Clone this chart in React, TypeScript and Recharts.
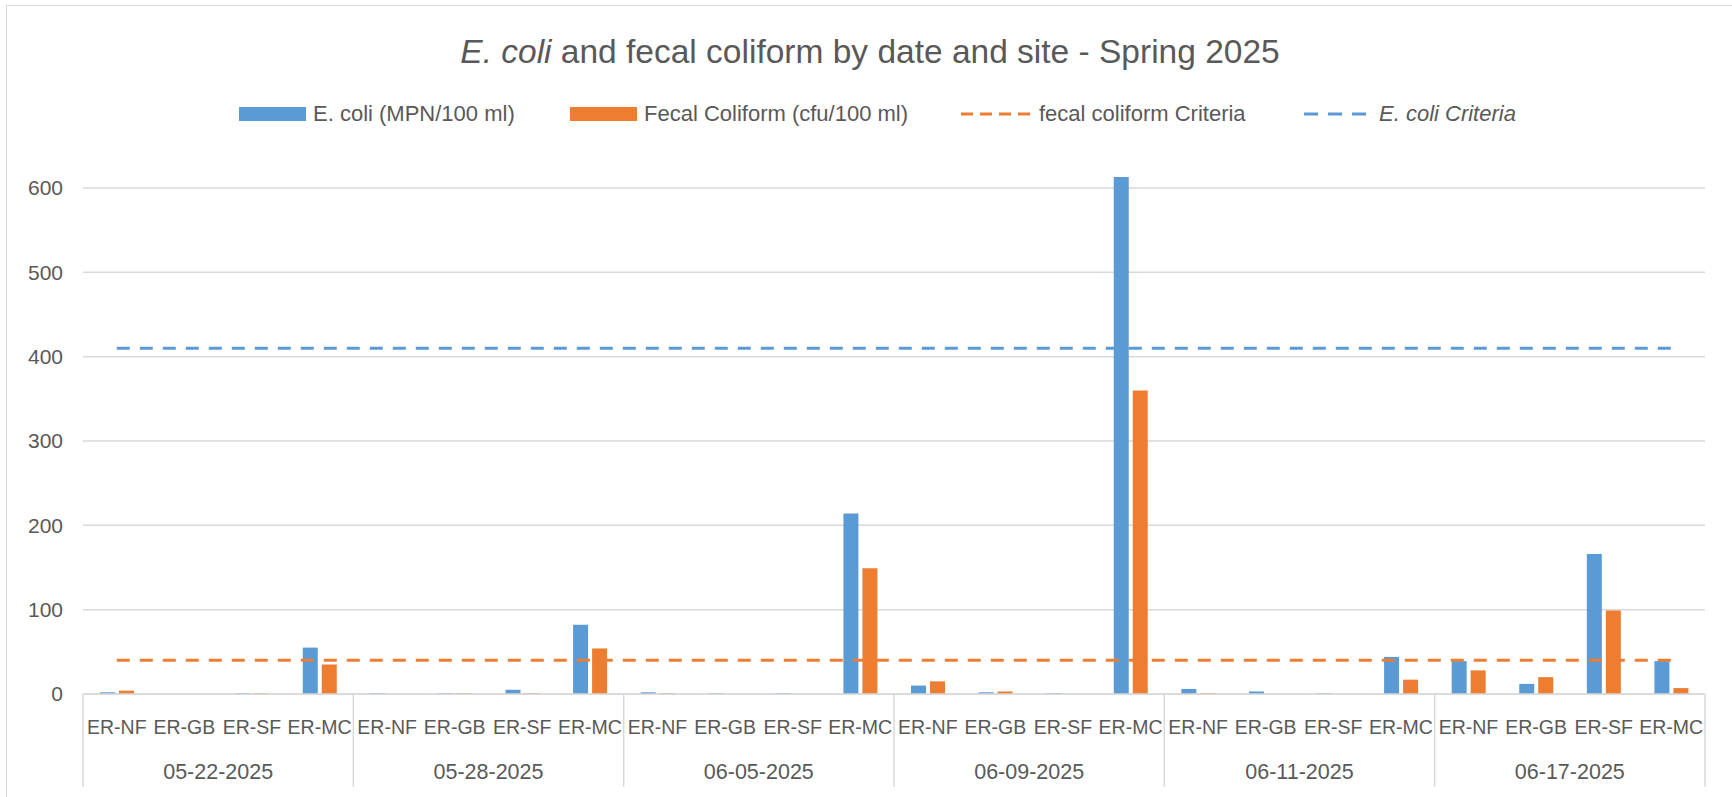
import React from 'react';
import { ComposedChart, Bar, Line, XAxis, YAxis, CartesianGrid, Legend } from 'recharts';

const sites = ['ER-NF', 'ER-GB', 'ER-SF', 'ER-MC'];
const dates = ['05-22-2025', '05-28-2025', '06-05-2025', '06-09-2025', '06-11-2025', '06-17-2025'];
// values per date, in site order
const ecoli = [2, 0, 1, 55, 1, 1, 5, 82, 2, 1, 1, 214, 10, 2, 1, 613, 6, 3, 1, 44, 39, 12, 166, 39];
const fecal = [4, 0, 1, 35, 0, 1, 1, 54, 1, 0, 0, 149, 15, 3, 0, 360, 1, 0, 0, 17, 28, 20, 99, 7];
const ecoliCriteria = 410;
const fecalCriteria = 40;
const yTicks = [0, 100, 200, 300, 400, 500, 600];

const rows = dates.flatMap((date, d) =>
  sites.map((site, s) => ({
    date,
    site,
    ecoli: ecoli[d * sites.length + s],
    fecal: fecal[d * sites.length + s],
    ecoliCrit: ecoliCriteria,
    fecalCrit: fecalCriteria,
  }))
);

const BLUE = '#5B9BD5';
const ORANGE = '#ED7D31';
const TEXT = '#595959';
const GRID = '#d9d9d9';
const FONT = "'Liberation Sans', Arial, sans-serif";

const W = 1732;
const H = 797;
const PLOT_LEFT = 83;
const PLOT_RIGHT = 1705;
const PLOT_TOP = 103.7;
const SITE_AXIS_H = 56;
const DATE_AXIS_H = 47;
const GROUP_W = (PLOT_RIGHT - PLOT_LEFT) / dates.length;

const SiteTick = (props: any) => {
  const { x, y, payload } = props;
  return (
    <text x={x} y={y + 32.5} textAnchor="middle" dominantBaseline="central" fontSize={19.5} fill={TEXT} fontFamily={FONT}>
      {payload.value}
    </text>
  );
};

const DateTick = (props: any) => {
  const { x, y, payload, index } = props;
  const top = y - SITE_AXIS_H;
  const bottom = y + 37;
  return (
    <g>
      <line x1={x - GROUP_W / 2} x2={x - GROUP_W / 2} y1={top} y2={bottom} stroke={GRID} strokeWidth={1.5} />
      {index === dates.length - 1 && (
        <line x1={x + GROUP_W / 2} x2={x + GROUP_W / 2} y1={top} y2={bottom} stroke={GRID} strokeWidth={1.5} />
      )}
      <text x={x} y={y + 22} textAnchor="middle" dominantBaseline="central" fontSize={21.5} fill={TEXT} fontFamily={FONT}>
        {payload.value}
      </text>
    </g>
  );
};

const legendText: React.CSSProperties = {
  position: 'absolute',
  top: 3.4,
  fontSize: 22,
  lineHeight: '22px',
  color: TEXT,
  whiteSpace: 'nowrap',
  fontFamily: FONT,
};

const ChartLegend = () => (
  <div style={{ position: 'relative', height: 30, width: W }}>
    <div style={{ position: 'absolute', left: 239, top: 7, width: 67, height: 14, background: BLUE }} />
    <div style={{ ...legendText, left: 313 }}>E. coli (MPN/100 ml)</div>
    <div style={{ position: 'absolute', left: 570, top: 7, width: 67, height: 14, background: ORANGE }} />
    <div style={{ ...legendText, left: 644 }}>Fecal Coliform (cfu/100 ml)</div>
    <svg style={{ position: 'absolute', left: 961, top: 12 }} width={70} height={4}>
      <line x1={0} x2={70} y1={2} y2={2} stroke={ORANGE} strokeWidth={3} strokeDasharray="12 7" />
    </svg>
    <div style={{ ...legendText, left: 1039 }}>fecal coliform Criteria</div>
    <svg style={{ position: 'absolute', left: 1304, top: 12 }} width={62} height={4}>
      <line x1={0} x2={62} y1={2} y2={2} stroke={BLUE} strokeWidth={3} strokeDasharray="14 10" />
    </svg>
    <div style={{ ...legendText, left: 1379, fontStyle: 'italic' }}>E. coli Criteria</div>
  </div>
);

export default function App() {
  return (
    <div style={{ position: 'absolute', left: 0, top: 0, width: W, height: H, overflow: 'hidden', background: '#fff', fontFamily: FONT }}>
      <div style={{ position: 'absolute', left: 6, top: 5, width: 1740, height: 800, border: `1.5px solid ${GRID}` }} />
      <div
        style={{
          position: 'absolute',
          left: 0,
          top: 34.6,
          width: 1740,
          textAlign: 'center',
          fontSize: 33.5,
          lineHeight: '33.5px',
          color: TEXT,
          whiteSpace: 'nowrap',
        }}
      >
        <i>E. coli</i> and fecal coliform by date and site - Spring 2025
      </div>
      <div style={{ position: 'absolute', left: 0, top: 0 }}>
        <ComposedChart
          width={W}
          height={H}
          data={rows}
          margin={{ top: PLOT_TOP, right: W - PLOT_RIGHT, bottom: 0, left: 0 }}
          barSize={15}
          barGap={4}
        >
          <CartesianGrid horizontal vertical={false} horizontalValues={yTicks} stroke={GRID} strokeWidth={1.5} />
          <XAxis
            dataKey="site"
            height={SITE_AXIS_H}
            axisLine={{ stroke: GRID, strokeWidth: 1.5 }}
            tickLine={false}
            tickSize={0}
            tickMargin={0}
            interval={0}
            tick={<SiteTick />}
          />
          <XAxis
            xAxisId="date"
            dataKey="date"
            allowDuplicatedCategory={false}
            height={DATE_AXIS_H}
            axisLine={false}
            tickLine={false}
            tickSize={0}
            tickMargin={0}
            interval={0}
            tick={<DateTick />}
          />
          <YAxis
            type="number"
            domain={[0, 700]}
            ticks={yTicks}
            width={PLOT_LEFT}
            axisLine={false}
            tickLine={false}
            tickSize={0}
            tickMargin={20}
            tick={{ fontSize: 21, fill: TEXT, fontFamily: FONT }}
          />
          <Legend
            layout="horizontal"
            verticalAlign="middle"
            wrapperStyle={{ top: 100, left: 0, width: W }}
            content={<ChartLegend />}
          />
          <Bar dataKey="ecoli" name="E. coli (MPN/100 ml)" fill={BLUE} isAnimationActive={false} />
          <Bar dataKey="fecal" name="Fecal Coliform (cfu/100 ml)" fill={ORANGE} isAnimationActive={false} />
          <Line
            type="linear"
            dataKey="fecalCrit"
            name="fecal coliform Criteria"
            stroke={ORANGE}
            strokeWidth={3}
            strokeDasharray="13 10"
            dot={false}
            activeDot={false}
            isAnimationActive={false}
          />
          <Line
            type="linear"
            dataKey="ecoliCrit"
            name="E. coli Criteria"
            stroke={BLUE}
            strokeWidth={3}
            strokeDasharray="13 10"
            dot={false}
            activeDot={false}
            isAnimationActive={false}
          />
        </ComposedChart>
      </div>
    </div>
  );
}
